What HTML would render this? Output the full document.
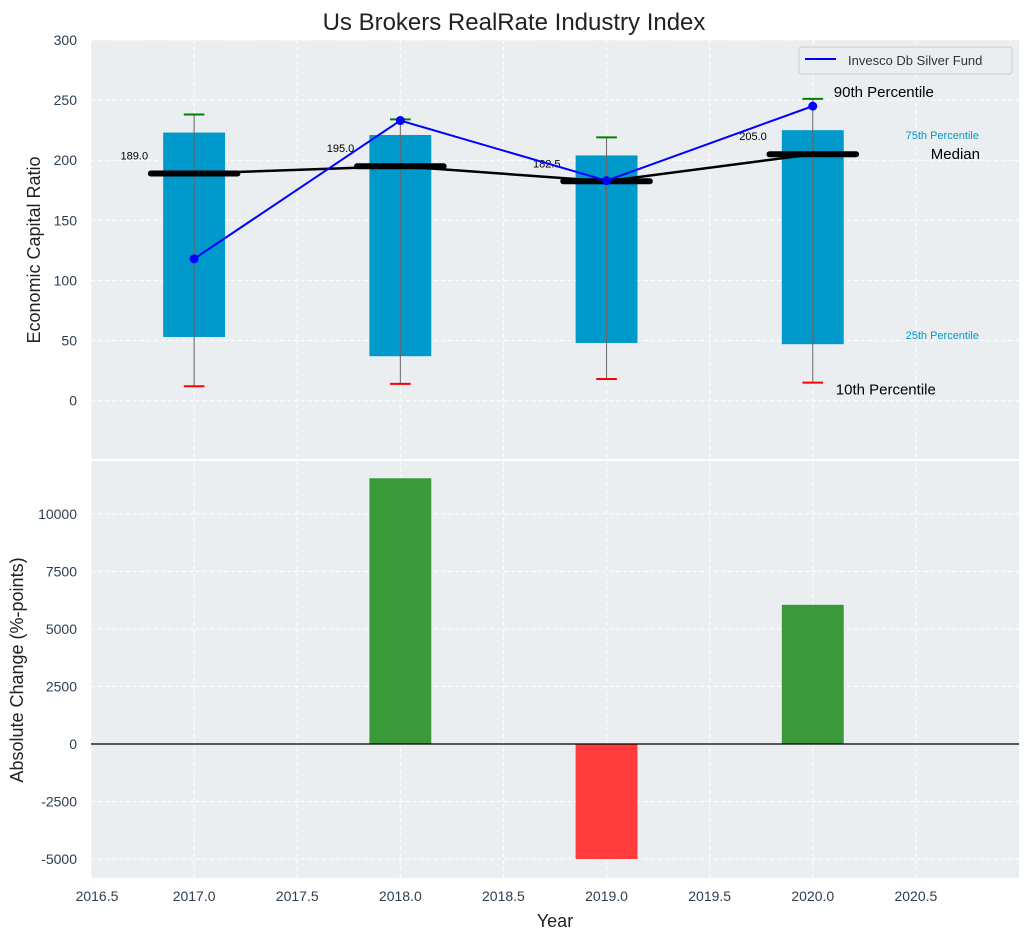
<!DOCTYPE html>
<html><head><meta charset="utf-8"><style>
body{margin:0;background:#fff;font-family:"Liberation Sans",sans-serif}
svg text{font-family:"Liberation Sans",sans-serif}
</style></head><body>
<svg id="c" width="1029" height="940" xmlns="http://www.w3.org/2000/svg"></svg>
<script>
const years=[2017,2018,2019,2020];
const p10=[12,14,18,15];
const p25=[53,37,48,47];
const p50=[189,195,182.5,205];
const p75=[223,221,204,225];
const p90=[238,234,219,251];
const fund=[118,233,183,245];
const changes=[0,11550,-5000,6050];
const xTicks=[2016.5,2017,2017.5,2018,2018.5,2019,2019.5,2020,2020.5];
const yTopTicks=[0,50,100,150,200,250,300];
const yBotTicks=[-5000,-2500,0,2500,5000,7500,10000];

const NS="http://www.w3.org/2000/svg";
const svg=document.getElementById('c');
function el(t,a,p){const e=document.createElementNS(NS,t);for(const k in a)e.setAttribute(k,a[k]);(p||svg).appendChild(e);return e;}
function tx(x,y,s,a,p){const e=el('text',Object.assign({x:x,y:y},a),p);e.textContent=s;return e;}
const L=91,R=1019;
const X=v=>L+(v-2016.5)/(2021-2016.5)*(R-L);
const T0=40,T1=459,B0=461,B1=878;
const Yt=v=>T0+(300-v)/(300+48.5)*(T1-T0);
const Yb=v=>B0+(12300-v)/(12300+5826)*(B1-B0);

let r=el('rect',{x:L,y:T0,width:R-L,height:T1-T0,fill:'#eaeef0'});

r=el('rect',{x:L,y:B0,width:R-L,height:B1-B0,fill:'#eaeef0'});


xTicks.forEach(v=>{[[T0,T1],[B0,B1]].forEach(([a,b])=>{el('line',{x1:X(v),x2:X(v),y1:a,y2:b,stroke:'#fff','stroke-dasharray':'4,3','stroke-width':1});});});
yTopTicks.forEach(v=>{el('line',{x1:L,x2:R,y1:Yt(v),y2:Yt(v),stroke:'#fff','stroke-dasharray':'4,3'});
 const t=tx(L-14,Yt(v)+5,String(v),{'text-anchor':'end','font-size':14,fill:'#2d3e50'});
 });
yBotTicks.forEach(v=>{el('line',{x1:L,x2:R,y1:Yb(v),y2:Yb(v),stroke:'#fff','stroke-dasharray':'4,3'});
 const t=tx(L-14,Yb(v)+5,String(v),{'text-anchor':'end','font-size':14,fill:'#2d3e50'});
 });
xTicks.forEach(v=>{const t=tx(X(v)+(v===2016.5?6:0),B1+23,v.toFixed(1),{'text-anchor':'middle','font-size':14,fill:'#2d3e50'});
 });

years.forEach((y,i)=>{
 const b=el('rect',{x:X(y-0.15),y:Yt(p75[i]),width:X(y+0.15)-X(y-0.15),height:Yt(p25[i])-Yt(p75[i]),fill:'#0099cc'});
 
 el('line',{x1:X(y),x2:X(y),y1:Yt(p90[i]),y2:Yt(p10[i]),stroke:'#666','stroke-width':1});
 el('line',{x1:X(y-0.05),x2:X(y+0.05),y1:Yt(p90[i]),y2:Yt(p90[i]),stroke:'green','stroke-width':2});
 el('line',{x1:X(y-0.05),x2:X(y+0.05),y1:Yt(p10[i]),y2:Yt(p10[i]),stroke:'red','stroke-width':2});
});
el('polyline',{points:years.map((y,i)=>X(y)+','+Yt(p50[i])).join(' '),fill:'none',stroke:'#000','stroke-width':2.5});
years.forEach((y,i)=>{
 const m=el('line',{x1:X(y-0.21),x2:X(y+0.21),y1:Yt(p50[i]),y2:Yt(p50[i]),stroke:'#000','stroke-width':6,'stroke-linecap':'round'});
 
 tx(X(y-0.29),Yt(p50[i])-14,p50[i].toFixed(1),{'text-anchor':'middle','font-size':11,fill:'#000'});
});
el('polyline',{points:years.map((y,i)=>X(y)+','+Yt(fund[i])).join(' '),fill:'none',stroke:'blue','stroke-width':2});
years.forEach((y,i)=>{const c=el('circle',{cx:X(y),cy:Yt(fund[i]),r:4.5,fill:'blue'});
 });
const li=years.length-1;
tx(X(2020)+21,Yt(p90[li])-2,'90th Percentile',{'font-size':15,fill:'#000'});
tx(979,Yt(p75[li])+9,'75th Percentile',{'text-anchor':'end','font-size':11,fill:'#0099cc'});
tx(980,Yt(p50[li])+5,'Median',{'text-anchor':'end','font-size':15,fill:'#000'});
tx(979,Yt(p25[li])-5,'25th Percentile',{'text-anchor':'end','font-size':11,fill:'#0099cc'});
tx(X(2020)+23,Yt(p10[li])+12,'10th Percentile',{'font-size':15,fill:'#000'});
const lg=el('g',{});
el('rect',{x:799,y:47,width:213,height:27,rx:3,fill:'#eaeef0',stroke:'#ccc'},lg);
el('line',{x1:805,x2:836,y1:59,y2:59,stroke:'blue','stroke-width':2},lg);
tx(848,65,'Invesco Db Silver Fund',{'font-size':13,fill:'#333'},lg);

years.forEach((y,i)=>{if(!changes[i])return;
 const v=changes[i];
 const b=el('rect',{x:X(y-0.15),y:Math.min(Yb(v),Yb(0)),width:X(y+0.15)-X(y-0.15),height:Math.abs(Yb(v)-Yb(0)),fill:v>0?'#3a9a3a':'#ff3b3b'});
 });
el('line',{x1:L,x2:R,y1:Yb(0),y2:Yb(0),stroke:'#000','stroke-width':1.2});

let t=tx(514,30,'Us Brokers RealRate Industry Index',{'text-anchor':'middle','font-size':24,fill:'#222'});

t=tx(40,250,'Economic Capital Ratio',{'text-anchor':'middle','font-size':18,fill:'#222',transform:'rotate(-90 40 250)'});

t=tx(23,670,'Absolute Change (%-points)',{'text-anchor':'middle','font-size':18,fill:'#222',transform:'rotate(-90 23 670)'});

t=tx(555,927,'Year',{'text-anchor':'middle','font-size':18,fill:'#222'});

</script>
</body></html>
